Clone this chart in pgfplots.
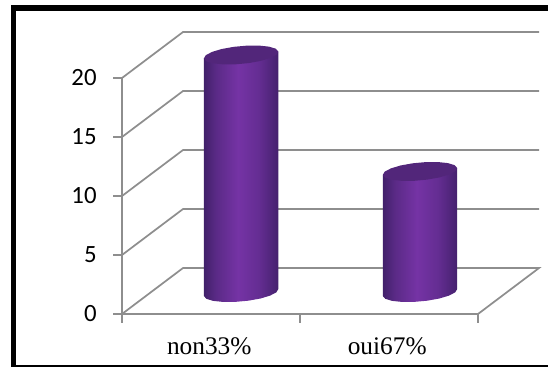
\documentclass[border=0pt]{standalone}
\usepackage{fontspec}
\setmainfont{Liberation Serif}
\newfontfamily\ticksfont{Carlito}
\usepackage{pgfplots}
\pgfplotsset{compat=1.18}

\definecolor{wallgray}{HTML}{8E8E8E}
\definecolor{captop}{HTML}{52267A}
\definecolor{cylA}{HTML}{41206A}
\definecolor{cylB}{HTML}{5A2A86}
\definecolor{cylC}{HTML}{7533A5}
\definecolor{cylD}{HTML}{642D92}
\definecolor{cylE}{HTML}{45216E}

% Light falls on the middle of the cylinder; the path fills the 25bp-75bp band.
\pgfdeclarehorizontalshading{cylbody}{100bp}{
  color(0bp)=(cylA); color(25bp)=(cylA); color(33bp)=(cylB);
  color(48bp)=(cylC); color(62bp)=(cylD); color(75bp)=(cylE); color(100bp)=(cylE)}

\begin{document}
\begin{tikzpicture}
\begin{axis}[
  scale only axis, width=267pt, height=177pt,
  xmin=0, xmax=2, ymin=0, ymax=20,
  clip=false,
  axis x line=bottom, axis y line=left,
  axis line style={draw=wallgray, line width=1.3pt, -},
  tick style={draw=wallgray, line width=1.2pt},
  tick align=outside, major tick length=6.5pt,
  xtick={0,1,2}, xticklabels={},
  extra x ticks={0.49,1.49},
  extra x tick labels={non33\%,oui67\%},
  extra x tick style={major tick length=0pt, tick label style={yshift=-14pt}},
  ytick={0,5,10,15,20},
  /pgf/number format/assume math mode=true,
  yticklabel style={font=\ticksfont\fontsize{18.6pt}{20pt}\selectfont, xshift=-9pt},
  xticklabel style={font=\fontsize{19pt}{21pt}\selectfont},
]
  % Oblique floor and wall lines at each gridline level
  \addplot[wallgray, line width=1.3pt] coordinates {(0,0) (0.343,3.9) (2.343,3.9) (2,0)};
  \addplot[wallgray, line width=1.3pt] coordinates {(0,5) (0.343,8.9) (2.343,8.9)};
  \addplot[wallgray, line width=1.3pt] coordinates {(0,10) (0.343,13.9) (2.343,13.9)};
  \addplot[wallgray, line width=1.3pt] coordinates {(0,15) (0.343,18.9) (2.343,18.9)};
  \addplot[wallgray, line width=1.3pt] coordinates {(0,20) (0.343,23.9) (2.343,23.9)};

  % First cylinder: side with rounded foot, then cap
  \addplot[draw=none, shade, shading=cylbody] coordinates {
    (0.460,1.528) (0.474,1.289) (0.512,1.113) (0.568,1.023) (0.637,1.028)
    (0.710,1.129) (0.778,1.313) (0.832,1.559) (0.867,1.835) (0.878,2.112)
    (0.878,22.242) (0.460,21.658)} -- cycle;
  \addplot[draw=none, fill=captop] coordinates {
    (0.460,21.658) (0.474,21.419) (0.512,21.243) (0.568,21.153) (0.637,21.158)
    (0.710,21.259) (0.778,21.443) (0.832,21.689) (0.867,21.965) (0.878,22.242)
    (0.864,22.481) (0.826,22.657) (0.770,22.747) (0.701,22.742) (0.628,22.641)
    (0.560,22.457) (0.506,22.211) (0.471,21.935)} -- cycle;

  % Second cylinder
  \addplot[draw=none, shade, shading=cylbody] coordinates {
    (1.465,1.528) (1.479,1.289) (1.517,1.113) (1.573,1.023) (1.642,1.028)
    (1.715,1.129) (1.783,1.313) (1.837,1.559) (1.872,1.835) (1.883,2.112)
    (1.883,12.372) (1.465,11.788)} -- cycle;
  \addplot[draw=none, fill=captop] coordinates {
    (1.465,11.788) (1.479,11.549) (1.517,11.373) (1.573,11.283) (1.642,11.288)
    (1.715,11.389) (1.783,11.573) (1.837,11.819) (1.872,12.095) (1.883,12.372)
    (1.869,12.611) (1.831,12.787) (1.775,12.877) (1.706,12.872) (1.633,12.771)
    (1.565,12.587) (1.511,12.341) (1.476,12.065)} -- cycle;

  % Outer frame, open on the right, and the extent of the page
  \path[use as bounding box] (axis cs:-0.68539,-4.4915) rectangle (axis cs:2.39326,26.6102);
  \fill[black] (axis cs:-0.6208,-4.4915) rectangle (axis cs:-0.5955,26.1864);
  \fill[black] (axis cs:-0.6208,26.1864) rectangle (axis cs:2.39326,25.6780);
  \fill[black] (axis cs:-0.6208,-4.4915) rectangle (axis cs:2.39326,-4.3220);
\end{axis}
\end{tikzpicture}
\end{document}
